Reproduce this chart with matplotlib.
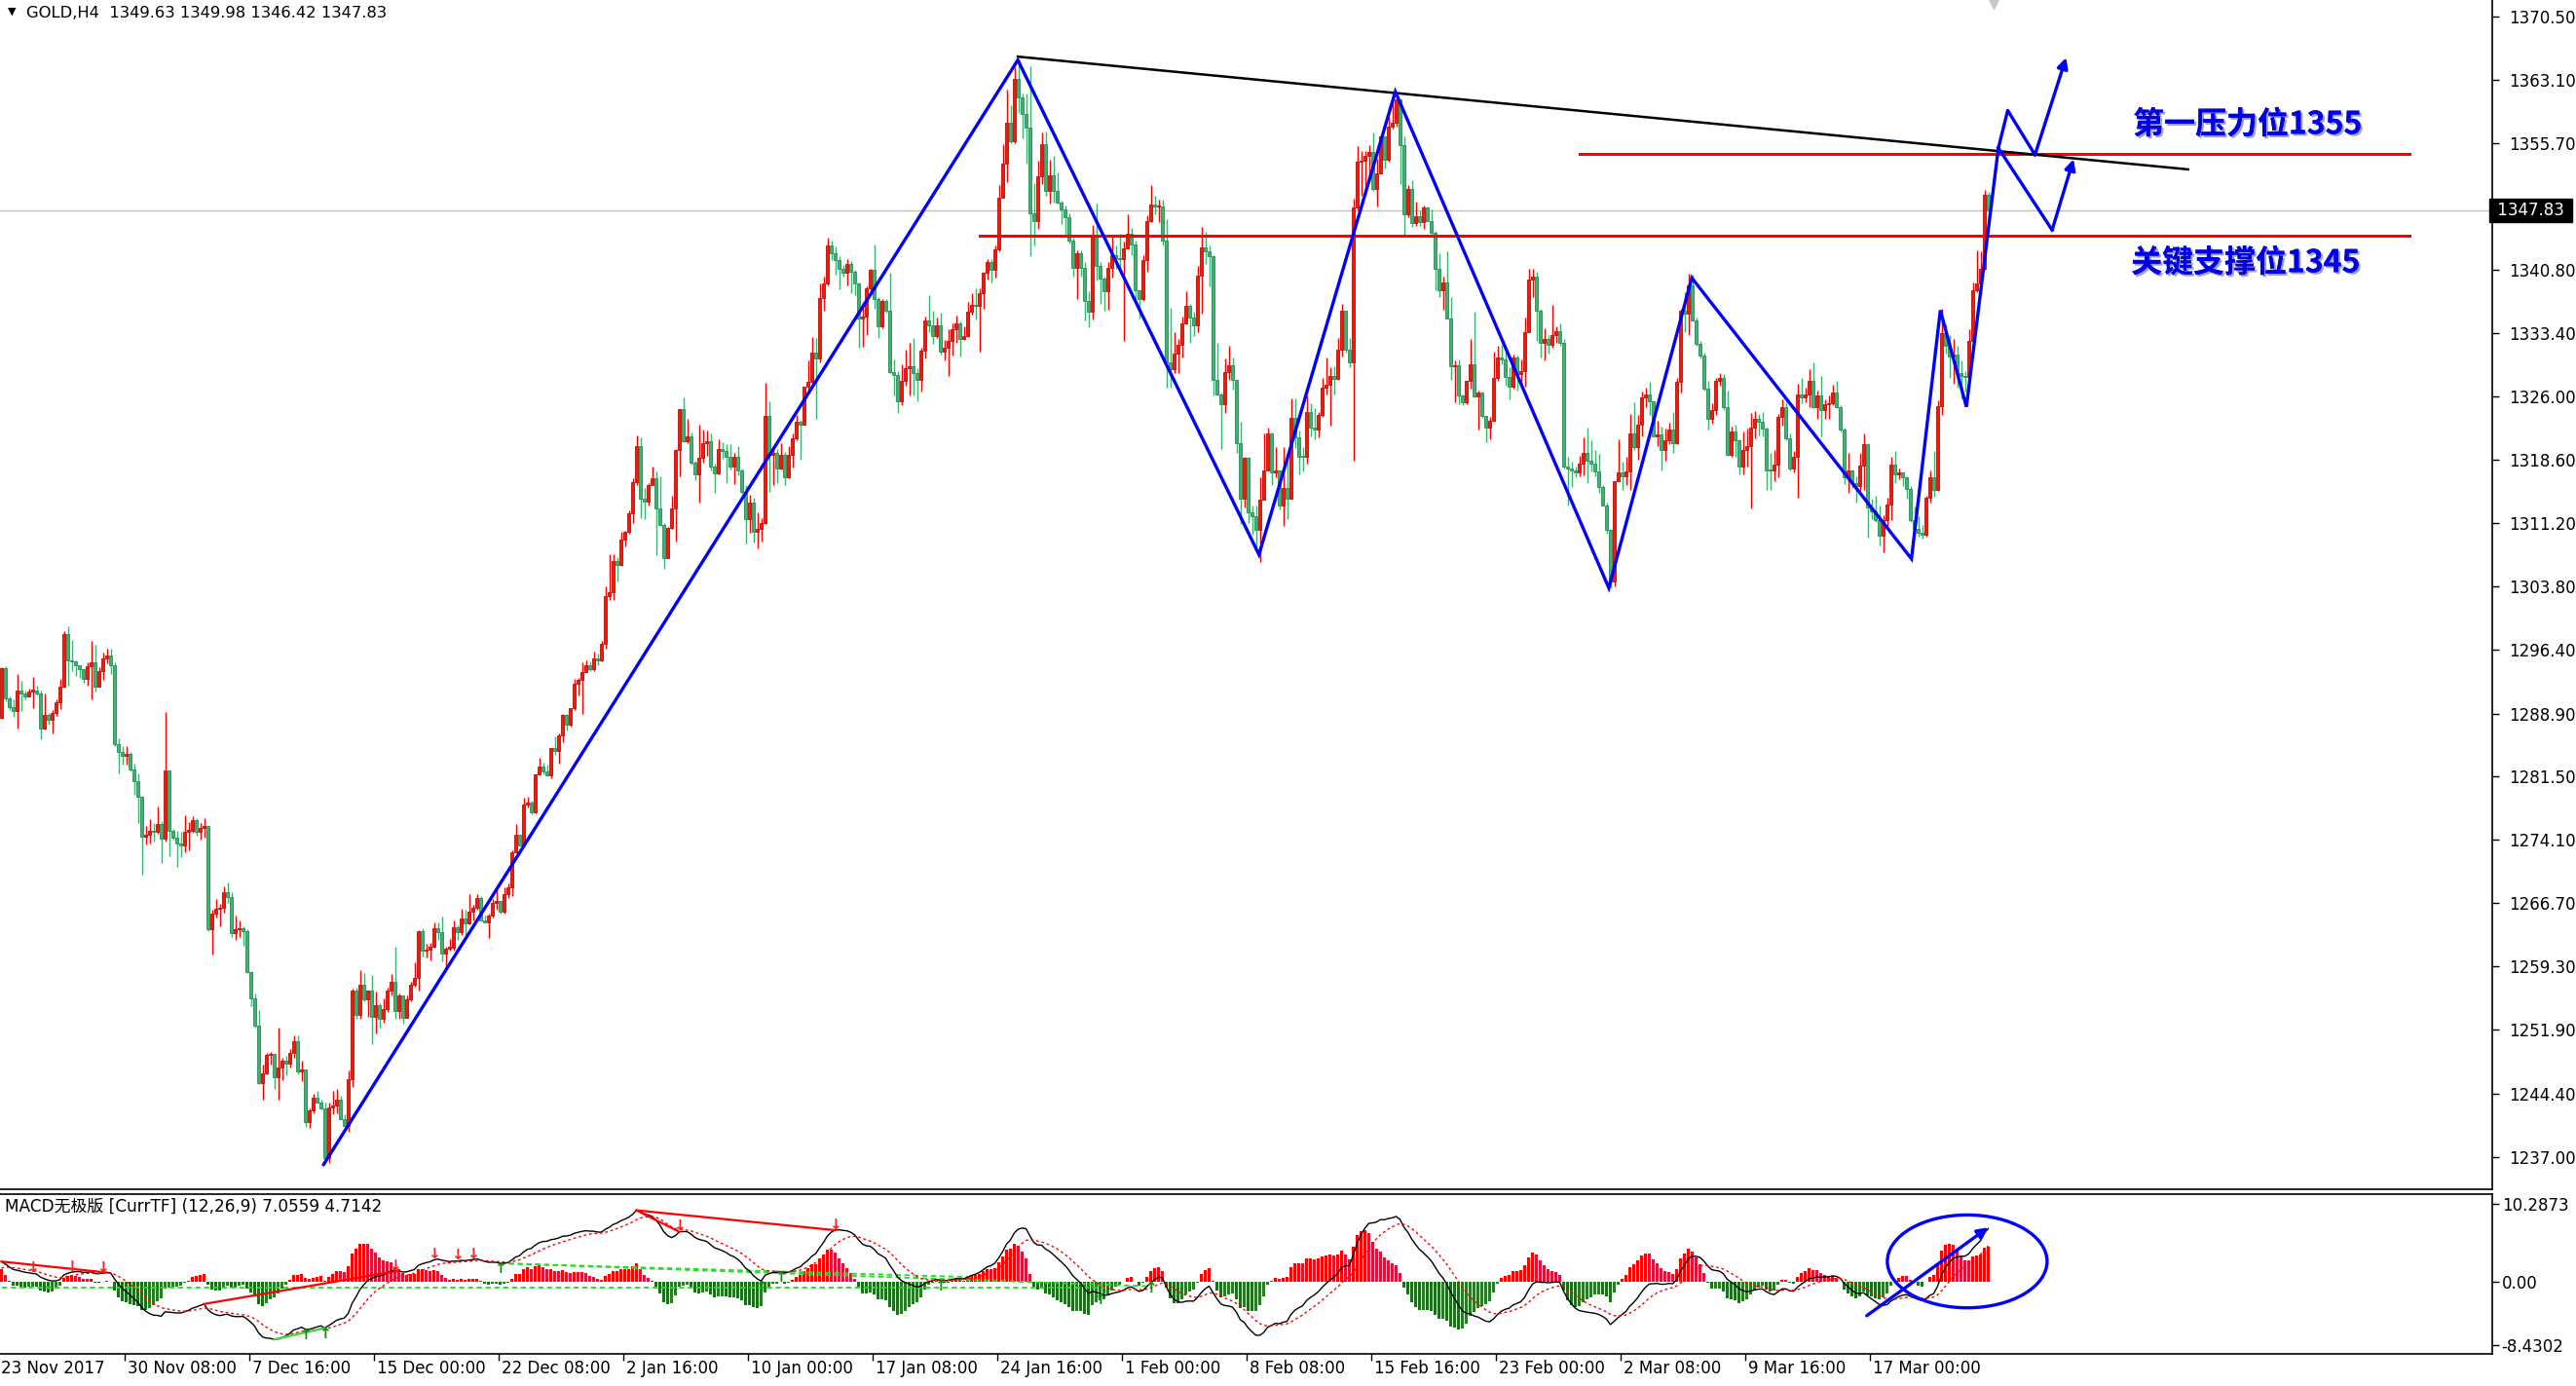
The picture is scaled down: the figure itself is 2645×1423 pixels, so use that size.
import matplotlib
matplotlib.use("Agg")
import matplotlib.pyplot as plt
from matplotlib.patches import Ellipse
import matplotlib.patheffects as pe
import matplotlib.transforms as mtransforms
import numpy as np

plt.rcParams['font.family'] = ['DejaVu Sans', 'Noto Sans CJK SC']

# ---------------- data ----------------
symbol_header = "GOLD,H4  1349.63 1349.98 1346.42 1347.83"
macd_header = "MACD无极版 [CurrTF] (12,26,9) 7.0559 4.7142"
first_open = 1288.4
last_price = 1347.83

closes = [
 1294.2, 1290.7, 1289.6, 1289.2, 1291.6, 1291.2, 1290.9, 1291.5, 1291.6, 1291.2,
 1287.1, 1288.7, 1288.2, 1289.0, 1290.2, 1292.0, 1298.2, 1295.1, 1295.0, 1294.5,
 1294.1, 1292.9, 1294.4, 1294.9, 1292.0, 1293.9, 1295.4, 1295.7, 1294.5, 1285.3,
 1284.4, 1283.9, 1284.2, 1282.3, 1281.0, 1279.1, 1274.5, 1274.7, 1275.2, 1275.0,
 1276.0, 1274.2, 1282.2, 1275.2, 1274.4, 1273.7, 1273.5, 1275.1, 1275.2, 1276.4,
 1275.1, 1275.5, 1275.7, 1263.7, 1265.5, 1266.0, 1266.2, 1268.0, 1267.4, 1263.2,
 1263.6, 1263.8, 1263.4, 1258.6, 1255.5, 1252.4, 1245.6, 1246.8, 1248.9, 1249.0,
 1246.3, 1247.5, 1248.2, 1247.9, 1249.2, 1250.5, 1247.0, 1247.2, 1241.1, 1242.4,
 1243.9, 1243.4, 1242.7, 1236.8, 1242.8, 1243.0, 1243.7, 1241.4, 1240.6, 1246.1,
 1256.5, 1253.6, 1257.2, 1255.4, 1256.5, 1253.4, 1254.8, 1253.2, 1254.3, 1256.5,
 1257.5, 1254.1, 1255.9, 1253.3, 1255.4, 1257.2, 1258.0, 1263.4, 1261.1, 1261.2,
 1261.6, 1263.8, 1263.3, 1260.8, 1261.4, 1261.5, 1263.9, 1263.3, 1264.9, 1264.3,
 1265.7, 1266.2, 1267.3, 1264.7, 1264.5, 1265.2, 1266.7, 1266.9, 1265.7, 1267.8,
 1268.5, 1272.6, 1274.7, 1273.5, 1278.2, 1278.5, 1277.3, 1281.8, 1282.7, 1282.1,
 1281.7, 1284.8, 1284.5, 1286.3, 1288.7, 1287.6, 1289.5, 1292.4, 1292.8, 1293.8,
 1294.6, 1294.1, 1295.4, 1295.1, 1297.0, 1302.7, 1303.1, 1306.7, 1306.3, 1309.3,
 1310.2, 1312.3, 1316.0, 1320.2, 1314.0, 1313.7, 1315.6, 1316.4, 1312.9, 1311.0,
 1307.1, 1310.6, 1312.9, 1319.7, 1324.5, 1320.8, 1321.3, 1318.3, 1316.9, 1318.8,
 1320.5, 1320.8, 1317.8, 1317.0, 1319.9, 1319.6, 1319.0, 1317.8, 1318.9, 1317.3,
 1314.8, 1311.7, 1313.6, 1310.2, 1310.5, 1311.2, 1323.7, 1319.2, 1319.4, 1317.6,
 1319.2, 1316.6, 1319.2, 1321.1, 1323.1, 1322.7, 1327.2, 1327.7, 1331.2, 1330.5,
 1337.5, 1339.3, 1343.7, 1342.8, 1342.0, 1341.0, 1340.5, 1341.5, 1340.6, 1339.3,
 1335.1, 1335.4, 1338.7, 1340.8, 1337.4, 1334.2, 1337.2, 1336.0, 1328.9, 1328.5,
 1325.5, 1327.8, 1329.3, 1329.6, 1328.7, 1328.0, 1331.4, 1334.9, 1334.3, 1333.1,
 1334.4, 1331.3, 1331.7, 1332.5, 1333.9, 1334.6, 1332.8, 1333.1, 1335.9, 1336.7,
 1336.6, 1338.1, 1340.5, 1341.8, 1340.9, 1343.2, 1349.3, 1353.3, 1358.1, 1355.9,
 1363.2, 1361.0, 1359.1, 1357.5, 1347.5, 1346.6, 1351.8, 1355.6, 1350.1, 1351.9,
 1350.1, 1348.7, 1347.9, 1347.0, 1344.3, 1341.1, 1342.8, 1341.1, 1337.2, 1335.9,
 1344.9, 1341.3, 1339.8, 1338.3, 1341.1, 1342.5, 1342.2, 1342.1, 1343.3, 1345.1,
 1343.8, 1338.5, 1337.4, 1342.0, 1346.5, 1348.5, 1348.2, 1348.3, 1344.3, 1330.0,
 1329.2, 1331.0, 1332.1, 1334.6, 1336.6, 1335.3, 1334.3, 1340.2, 1343.5, 1343.0,
 1342.4, 1328.0, 1326.2, 1325.1, 1328.9, 1329.7, 1328.0, 1320.5, 1314.1, 1318.8,
 1312.4, 1312.0, 1310.4, 1313.9, 1317.4, 1321.7, 1317.1, 1317.3, 1313.2, 1315.3,
 1314.1, 1323.5, 1321.2, 1319.0, 1318.9, 1324.2, 1322.4, 1322.2, 1323.8, 1327.0,
 1327.4, 1328.4, 1328.1, 1331.5, 1336.0, 1331.5, 1330.0, 1348.1, 1353.5, 1353.6,
 1354.2, 1354.6, 1350.3, 1352.1, 1356.5, 1353.7, 1357.6, 1358.1, 1360.8, 1355.4,
 1347.4, 1350.3, 1346.3, 1347.1, 1346.4, 1348.1, 1346.6, 1345.2, 1341.0, 1338.4,
 1339.4, 1335.1, 1329.5, 1329.7, 1326.1, 1325.3, 1327.8, 1329.8, 1326.0, 1326.5,
 1323.7, 1322.4, 1323.2, 1328.2, 1330.6, 1330.3, 1328.3, 1327.2, 1330.6, 1328.6,
 1329.0, 1333.6, 1339.7, 1340.0, 1336.1, 1332.3, 1332.7, 1332.1, 1333.2, 1333.7,
 1332.3, 1317.8, 1317.6, 1317.3, 1317.1, 1318.1, 1319.4, 1318.5, 1318.1, 1317.2,
 1315.4, 1313.2, 1310.4, 1304.3, 1316.1, 1317.1, 1316.7, 1317.2, 1321.7, 1320.1,
 1322.7, 1325.9, 1326.2, 1325.5, 1321.3, 1321.6, 1319.8, 1320.9, 1322.1, 1320.5,
 1327.7, 1336.0, 1335.7, 1339.0, 1334.9, 1332.2, 1330.8, 1326.9, 1323.4, 1324.4,
 1327.9, 1328.2, 1324.8, 1319.2, 1321.9, 1320.9, 1317.8, 1319.8, 1320.2, 1322.4,
 1323.4, 1323.0, 1322.3, 1317.4, 1317.3, 1318.0, 1323.6, 1324.8, 1321.1, 1317.6,
 1318.9, 1326.3, 1325.9, 1326.2, 1327.8, 1324.8, 1326.1, 1324.4, 1325.1, 1325.2,
 1326.5, 1324.8, 1322.1, 1316.5, 1317.3, 1315.9, 1315.5, 1317.9, 1320.4, 1313.0,
 1312.6, 1311.5, 1309.7, 1311.5, 1313.4, 1318.0, 1316.9, 1317.1, 1316.5, 1315.2,
 1311.5, 1310.5, 1310.0, 1309.8, 1314.2, 1316.5, 1315.1, 1324.9, 1333.4, 1331.9,
 1330.7, 1330.9, 1328.8, 1328.4, 1328.3, 1332.5, 1338.4, 1339.3, 1341.0, 1349.63,
 1347.83,
]

highs = [
 1294.3, 1294.4, 1290.9, 1290.6, 1293.5, 1292.7, 1291.6, 1291.8, 1293.2, 1292.2,
 1291.6, 1291.2, 1289.0, 1289.3, 1290.6, 1292.9, 1298.5, 1299.1, 1297.5, 1295.1,
 1294.6, 1294.2, 1294.9, 1297.4, 1296.9, 1294.3, 1296.0, 1296.5, 1296.5, 1294.9,
 1286.0, 1285.1, 1285.1, 1284.4, 1283.0, 1281.9, 1279.3, 1275.7, 1276.5, 1276.1,
 1278.0, 1276.3, 1289.1, 1280.2, 1275.4, 1275.2, 1275.0, 1277.0, 1276.2, 1276.9,
 1276.7, 1276.1, 1276.7, 1275.7, 1265.9, 1267.2, 1266.6, 1268.7, 1269.1, 1268.0,
 1265.2, 1264.7, 1264.0, 1263.6, 1258.7, 1256.1, 1254.2, 1247.8, 1249.2, 1249.3,
 1249.1, 1252.1, 1248.6, 1248.8, 1249.6, 1251.2, 1251.2, 1248.3, 1247.2, 1242.7,
 1244.4, 1244.7, 1243.7, 1243.3, 1243.3, 1244.7, 1244.9, 1244.2, 1242.0, 1247.1,
 1256.7, 1256.8, 1258.9, 1258.5, 1256.5, 1258.3, 1256.4, 1255.0, 1255.5, 1256.8,
 1258.4, 1261.6, 1256.1, 1255.4, 1255.9, 1257.5, 1259.8, 1263.5, 1263.8, 1261.9,
 1262.1, 1264.4, 1264.4, 1265.1, 1261.6, 1262.5, 1264.7, 1264.1, 1266.0, 1265.9,
 1267.7, 1266.5, 1267.8, 1267.5, 1265.2, 1265.5, 1267.2, 1268.6, 1267.0, 1268.5,
 1269.0, 1272.9, 1276.0, 1274.4, 1279.0, 1279.1, 1278.7, 1281.8, 1283.7, 1283.1,
 1282.9, 1284.9, 1286.2, 1286.6, 1288.9, 1288.9, 1289.5, 1293.0, 1293.1, 1294.9,
 1295.1, 1295.0, 1296.2, 1295.9, 1297.4, 1303.8, 1307.5, 1307.5, 1307.2, 1310.2,
 1310.3, 1312.7, 1316.4, 1321.5, 1321.2, 1315.3, 1315.9, 1317.8, 1317.2, 1316.7,
 1311.2, 1310.7, 1314.4, 1319.9, 1324.5, 1325.9, 1323.4, 1321.8, 1318.5, 1322.7,
 1322.1, 1322.0, 1321.7, 1318.1, 1321.0, 1320.7, 1320.4, 1320.4, 1319.4, 1320.2,
 1317.6, 1315.6, 1314.5, 1314.2, 1312.5, 1311.8, 1327.6, 1325.4, 1319.9, 1319.9,
 1320.6, 1319.5, 1320.2, 1321.7, 1323.9, 1323.3, 1327.2, 1330.2, 1333.0, 1332.9,
 1339.3, 1340.0, 1344.6, 1344.3, 1343.6, 1342.4, 1341.4, 1342.1, 1341.9, 1340.8,
 1339.4, 1337.1, 1338.9, 1341.0, 1343.8, 1337.6, 1337.4, 1337.4, 1340.5, 1330.4,
 1329.0, 1329.8, 1331.5, 1332.3, 1332.9, 1329.3, 1331.7, 1335.4, 1337.9, 1336.0,
 1335.2, 1335.8, 1332.6, 1333.9, 1334.6, 1335.5, 1334.8, 1334.2, 1337.1, 1338.1,
 1338.7, 1338.7, 1340.6, 1342.1, 1342.1, 1343.7, 1350.8, 1355.6, 1361.9, 1360.1,
 1364.6, 1365.4, 1361.5, 1361.5, 1364.7, 1351.0, 1353.6, 1356.9, 1357.0, 1353.7,
 1354.2, 1352.2, 1348.9, 1348.4, 1347.5, 1344.6, 1343.1, 1343.1, 1341.7, 1338.3,
 1346.1, 1348.6, 1341.7, 1340.0, 1341.7, 1345.0, 1343.7, 1345.1, 1344.2, 1347.4,
 1345.8, 1344.3, 1338.6, 1342.5, 1347.2, 1350.8, 1349.5, 1349.0, 1349.0, 1346.8,
 1336.4, 1333.6, 1332.7, 1335.4, 1338.3, 1336.9, 1335.9, 1341.3, 1345.9, 1345.3,
 1343.7, 1342.5, 1332.3, 1326.5, 1330.5, 1332.0, 1330.6, 1328.0, 1323.0, 1318.9,
 1318.9, 1313.3, 1313.2, 1316.5, 1321.7, 1322.4, 1321.8, 1320.1, 1317.2, 1320.1,
 1318.9, 1325.8, 1325.8, 1322.0, 1320.1, 1326.1, 1325.2, 1324.7, 1324.2, 1328.2,
 1330.6, 1329.4, 1329.5, 1332.9, 1336.8, 1336.1, 1332.9, 1349.2, 1355.3, 1354.8,
 1354.8, 1355.4, 1356.9, 1353.9, 1356.6, 1355.8, 1358.8, 1360.5, 1361.3, 1359.3,
 1356.5, 1350.8, 1351.3, 1348.8, 1347.8, 1348.4, 1348.3, 1347.9, 1345.4, 1342.8,
 1340.0, 1343.0, 1337.7, 1330.2, 1330.4, 1326.2, 1327.8, 1332.7, 1335.9, 1326.7,
 1326.6, 1323.7, 1323.6, 1331.3, 1332.0, 1332.1, 1331.5, 1329.4, 1330.9, 1330.8,
 1330.4, 1335.2, 1341.0, 1341.0, 1340.6, 1336.3, 1334.0, 1333.2, 1336.7, 1334.2,
 1334.6, 1332.8, 1319.0, 1318.4, 1317.8, 1319.1, 1321.2, 1322.4, 1320.9, 1319.8,
 1319.3, 1315.6, 1313.6, 1310.5, 1316.1, 1321.0, 1318.4, 1319.0, 1324.0, 1325.3,
 1323.9, 1326.6, 1327.1, 1327.7, 1325.5, 1323.2, 1322.5, 1322.3, 1322.9, 1324.2,
 1328.2, 1336.3, 1338.2, 1340.4, 1340.3, 1335.2, 1332.5, 1331.1, 1327.8, 1325.2,
 1328.2, 1328.8, 1328.6, 1326.7, 1322.5, 1322.7, 1321.0, 1321.9, 1322.3, 1324.1,
 1324.3, 1324.0, 1324.2, 1322.4, 1319.4, 1319.8, 1324.0, 1325.7, 1325.3, 1321.7,
 1319.6, 1327.5, 1328.2, 1327.1, 1329.2, 1330.0, 1326.7, 1328.4, 1325.7, 1326.1,
 1327.4, 1327.8, 1325.0, 1322.4, 1319.4, 1317.5, 1316.7, 1319.4, 1321.7, 1320.6,
 1314.0, 1314.4, 1313.2, 1312.1, 1314.2, 1319.0, 1319.6, 1317.6, 1317.1, 1316.7,
 1315.5, 1313.1, 1312.0, 1311.0, 1314.4, 1317.4, 1319.6, 1325.6, 1336.3, 1334.5,
 1333.2, 1332.7, 1331.9, 1330.2, 1329.0, 1333.9, 1339.4, 1343.1, 1343.0, 1350.2,
 1349.98,
]

lows = [
 1288.3, 1290.3, 1289.3, 1288.5, 1287.1, 1289.2, 1290.6, 1290.9, 1289.5, 1291.0,
 1285.9, 1287.0, 1287.6, 1286.6, 1288.6, 1289.4, 1291.9, 1292.2, 1293.9, 1293.3,
 1293.1, 1292.5, 1292.2, 1290.6, 1291.5, 1292.0, 1292.8, 1294.8, 1293.5, 1285.1,
 1281.9, 1282.9, 1282.9, 1282.1, 1279.4, 1276.1, 1270.0, 1273.6, 1273.7, 1273.9,
 1274.8, 1271.4, 1273.9, 1272.2, 1274.1, 1271.0, 1272.1, 1272.7, 1272.9, 1274.9,
 1274.6, 1274.1, 1274.4, 1263.4, 1260.7, 1265.0, 1264.0, 1265.6, 1266.7, 1262.7,
 1262.4, 1262.7, 1261.7, 1258.5, 1254.6, 1252.1, 1245.5, 1243.7, 1246.7, 1247.8,
 1245.0, 1243.7, 1246.0, 1246.5, 1247.4, 1248.6, 1246.7, 1245.9, 1240.5, 1240.4,
 1242.1, 1243.3, 1242.6, 1236.6, 1236.3, 1242.0, 1242.1, 1241.4, 1240.3, 1239.9,
 1245.2, 1253.1, 1253.1, 1255.2, 1253.4, 1250.2, 1251.4, 1252.1, 1252.7, 1253.9,
 1255.9, 1253.2, 1253.1, 1252.6, 1253.3, 1255.2, 1256.9, 1256.5, 1260.4, 1260.3,
 1260.0, 1261.5, 1262.4, 1259.9, 1259.0, 1261.1, 1261.1, 1262.4, 1263.0, 1263.0,
 1264.2, 1264.7, 1265.9, 1264.6, 1264.4, 1262.6, 1265.0, 1265.9, 1265.5, 1265.5,
 1267.3, 1267.5, 1272.5, 1273.4, 1273.3, 1277.9, 1277.1, 1277.2, 1281.7, 1281.8,
 1281.6, 1281.3, 1284.1, 1283.0, 1285.5, 1286.9, 1287.4, 1289.3, 1291.0, 1288.8,
 1293.7, 1293.9, 1293.9, 1294.6, 1295.0, 1296.5, 1302.2, 1302.2, 1304.3, 1306.2,
 1308.5, 1309.9, 1311.2, 1315.6, 1311.8, 1311.7, 1313.3, 1315.6, 1307.4, 1310.9,
 1305.8, 1307.1, 1310.5, 1309.0, 1316.7, 1320.7, 1320.5, 1318.0, 1316.2, 1313.6,
 1318.3, 1319.1, 1317.3, 1314.7, 1316.9, 1318.7, 1315.9, 1317.5, 1315.8, 1316.8,
 1314.6, 1308.8, 1310.1, 1308.9, 1308.2, 1309.0, 1311.1, 1314.8, 1315.6, 1315.9,
 1317.5, 1315.6, 1316.4, 1317.7, 1320.9, 1318.6, 1322.7, 1326.8, 1327.3, 1323.4,
 1330.0, 1336.0, 1339.0, 1342.0, 1340.3, 1338.6, 1340.1, 1339.0, 1338.1, 1337.9,
 1331.7, 1331.8, 1333.2, 1338.2, 1336.3, 1332.9, 1334.0, 1335.8, 1328.8, 1326.1,
 1324.1, 1325.0, 1327.3, 1326.1, 1326.1, 1325.4, 1326.6, 1330.5, 1333.6, 1332.2,
 1332.9, 1330.9, 1330.2, 1328.4, 1330.8, 1332.3, 1330.7, 1332.6, 1333.0, 1335.6,
 1335.0, 1331.3, 1336.3, 1339.7, 1339.4, 1339.9, 1343.0, 1349.3, 1351.1, 1355.7,
 1355.7, 1359.2, 1356.2, 1353.3, 1342.4, 1343.7, 1345.6, 1350.9, 1349.5, 1348.6,
 1348.7, 1348.6, 1346.2, 1345.0, 1343.9, 1340.0, 1337.4, 1340.0, 1334.9, 1334.1,
 1335.0, 1339.6, 1336.8, 1336.0, 1336.2, 1339.9, 1341.0, 1340.6, 1332.5, 1343.2,
 1342.5, 1336.8, 1335.1, 1337.2, 1340.6, 1346.4, 1347.4, 1346.4, 1343.7, 1327.1,
 1327.1, 1328.8, 1328.7, 1330.6, 1334.5, 1332.3, 1333.1, 1333.5, 1335.7, 1341.5,
 1338.9, 1326.1, 1326.1, 1319.9, 1324.1, 1328.0, 1326.8, 1319.4, 1311.1, 1313.0,
 1311.2, 1309.8, 1308.5, 1306.6, 1313.9, 1317.3, 1315.7, 1316.5, 1312.8, 1310.8,
 1311.6, 1315.3, 1320.0, 1316.9, 1317.2, 1318.2, 1321.4, 1321.0, 1321.2, 1323.6,
 1326.2, 1322.6, 1326.2, 1328.0, 1330.7, 1331.1, 1329.4, 1318.5, 1347.8, 1349.5,
 1350.5, 1351.9, 1350.1, 1348.3, 1352.1, 1352.7, 1353.5, 1357.4, 1357.6, 1350.9,
 1344.8, 1347.0, 1345.9, 1346.0, 1346.0, 1345.6, 1346.5, 1345.0, 1338.4, 1337.7,
 1336.2, 1335.1, 1328.0, 1325.3, 1325.1, 1325.0, 1325.1, 1326.9, 1325.9, 1322.1,
 1323.5, 1320.7, 1321.0, 1323.1, 1327.9, 1329.8, 1327.3, 1325.7, 1326.9, 1326.7,
 1327.3, 1327.2, 1333.5, 1337.7, 1332.5, 1330.6, 1330.2, 1331.0, 1331.7, 1332.3,
 1331.9, 1317.6, 1313.3, 1315.4, 1316.5, 1316.7, 1316.8, 1315.9, 1317.2, 1316.7,
 1314.7, 1313.2, 1309.9, 1303.6, 1303.8, 1316.1, 1315.1, 1315.7, 1315.1, 1319.7,
 1318.6, 1321.4, 1324.8, 1323.9, 1321.3, 1320.2, 1317.4, 1318.5, 1320.4, 1319.4,
 1320.4, 1326.5, 1333.6, 1333.2, 1334.8, 1332.0, 1330.5, 1326.7, 1322.1, 1322.8,
 1323.8, 1327.3, 1324.4, 1319.1, 1319.0, 1319.0, 1316.9, 1316.9, 1317.8, 1312.9,
 1321.1, 1321.5, 1321.3, 1315.1, 1315.1, 1316.1, 1316.5, 1322.6, 1320.9, 1317.4,
 1317.1, 1314.2, 1325.2, 1325.3, 1324.8, 1324.6, 1323.4, 1321.4, 1323.4, 1323.4,
 1325.0, 1324.6, 1321.9, 1315.8, 1314.7, 1315.3, 1313.6, 1315.0, 1315.1, 1309.5,
 1311.7, 1311.3, 1308.6, 1307.8, 1310.5, 1311.5, 1315.9, 1316.3, 1315.5, 1314.0,
 1311.3, 1309.8, 1309.6, 1309.4, 1309.6, 1313.6, 1314.3, 1315.0, 1323.9, 1331.0,
 1328.2, 1327.5, 1327.0, 1325.8, 1326.6, 1327.6, 1331.5, 1338.2, 1338.0, 1340.8,
 1346.42,
]

price_ticks = [1370.50, 1363.10, 1355.70, 1340.80, 1333.40, 1326.00, 1318.60,
               1311.20, 1303.80, 1296.40, 1288.90, 1281.50, 1274.10, 1266.70,
               1259.30, 1251.90, 1244.40, 1237.00]
macd_ticks = [10.2873, 0.0, -8.4302]
macd_tick_labels = ["10.2873", "0.00", "-8.4302"]
date_labels = ["23 Nov 2017", "30 Nov 08:00", "7 Dec 16:00", "15 Dec 00:00",
               "22 Dec 08:00", "2 Jan 16:00", "10 Jan 00:00", "17 Jan 08:00",
               "24 Jan 16:00", "1 Feb 00:00", "8 Feb 08:00", "15 Feb 16:00",
               "23 Feb 00:00", "2 Mar 08:00", "9 Mar 16:00", "17 Mar 00:00"]
bars_per_label = 32

# MACD settings and state before the first visible bar
macd_fast, macd_slow, macd_signal = 12, 26, 9
init_ema_fast, init_ema_slow, init_dea = 1292.0, 1289.3, 1.6

# hand-drawn annotations (bar index, price)
resistance_level, resistance_span = 1354.4, (405, 618)
support_level, support_span = 1344.8, (251, 618)
trend_pts_x, trend_pts_y = [260.9, 561.3], [1365.8, 1352.6]
zigzag_x = [82.7, 260.9, 322.8, 357.8, 412.6, 433.9, 490.3, 497.7, 504.4, 512.6]
zigzag_y = [1236.1, 1365.4, 1307.5, 1361.7, 1303.6, 1339.9, 1307.0, 1336.1, 1324.8, 1355.1]
proj_a_x, proj_a_y = [512.6, 515.0, 522.0, 530.0], [1355.1, 1359.5, 1354.3, 1365.7]
proj_b_x, proj_b_y = [512.6, 526.4, 531.9], [1355.1, 1345.5, 1353.8]
label_top, label_top_pos = "第一压力位1355", (576.6, 1357.8)
label_bot, label_bot_pos = "关键支撑位1345", (576.1, 1341.6)

macd_red_segments = [(0, 27), (52, 102), (163, 214), (163, 174)]
macd_red_arrows = [8, 18, 26, 101, 111, 117, 121, 174, 214]
macd_green_arrows = [78, 83, 128, 195, 200, 241, 282, 295]
macd_green_segment = (70, 83)
macd_green_dash = [((0, -0.8), (283, -0.8)), ((128, None), (250, 0.6)), ((128, None), (295, -0.6))]
macd_ellipse = (504.6, 2.7, 41, 12.3)
macd_arrow = ((478.8, -4.5), (510.0, 7.2))

# ---------------- figure ----------------
W, H = 2645, 1423
fig = plt.figure(figsize=(W / 100, H / 100), dpi=100)
fig.patch.set_facecolor('white')

n = min(len(closes), len(highs), len(lows))
c = np.array(closes[:n], dtype=float)
o = np.r_[first_open, c[:-1]]
h = np.maximum(np.array(highs[:n], dtype=float), np.maximum(o, c))
l = np.minimum(np.array(lows[:n], dtype=float), np.minimum(o, c))
x = np.arange(n)

XL = (-0.375, -0.375 + 2559 / 4)
ax = fig.add_axes([0, 1 - 1221 / H, 2559 / W, 1221 / H])
axm = fig.add_axes([0, 1 - 1390 / H, 2559 / W, (1390 - 1226) / H])

# ---- candles
up = c >= o
ax.vlines(x[up], l[up], h[up], color='#FF0000', lw=1.0, zorder=3)
ax.vlines(x[~up], l[~up], h[~up], color='#3CB371', lw=1.0, zorder=3)
bb = np.minimum(o, c)
bh = np.maximum(np.abs(c - o), 0.15)
ax.bar(x[up], bh[up], bottom=bb[up], width=0.78, color='#FF1500',
       edgecolor='#B01010', lw=0.6, zorder=4)
ax.bar(x[~up], bh[~up], bottom=bb[~up], width=0.78, color='#3CB371',
       edgecolor='#2A8A55', lw=0.6, zorder=4)

ax.axhline(last_price, color='#C0C0C0', lw=1.0, zorder=1)

ax.plot(resistance_span, [resistance_level] * 2, color='#FF0000', lw=2.2, zorder=5)
ax.plot(support_span, [support_level] * 2, color='#FF0000', lw=2.2, zorder=5)
ax.plot(trend_pts_x, trend_pts_y, color='black', lw=1.8, zorder=5)
ax.plot(zigzag_x, zigzag_y, color='#0000FF', lw=2.4, zorder=6, solid_joinstyle='miter')
for px_, py_ in [(proj_a_x, proj_a_y), (proj_b_x, proj_b_y)]:
    ax.plot(px_[:-1], py_[:-1], color='#0000FF', lw=2.4, zorder=6)
    ax.annotate('', xy=(px_[-1], py_[-1]), xytext=(px_[-2], py_[-2]),
                arrowprops=dict(arrowstyle='-|>', color='#0000FF', lw=2.4,
                                mutation_scale=16, shrinkA=0, shrinkB=0), zorder=6)

shadow = [pe.withSimplePatchShadow(offset=(1.5, -1.5), shadow_rgbFace='#8888cc', alpha=0.8), pe.Normal()]
for txt, pos in [(label_top, label_top_pos), (label_bot, label_bot_pos)]:
    ax.text(pos[0], pos[1], txt, ha='center', va='center', color='#0000E6',
            fontsize=23, fontweight='bold', family=['Noto Sans CJK SC', 'DejaVu Sans'],
            path_effects=shadow, zorder=7)

ax.set_xlim(*XL)
ax.set_ylim(1233.20, 1372.43)
ax.yaxis.tick_right()
ax.set_yticks(price_ticks)
ax.set_yticklabels([f"{v:.2f}" for v in price_ticks])
ax.tick_params(axis='y', direction='out', length=5, width=1, pad=7, labelsize=12, colors='black')
ax.set_xticks([])
for s in ['left', 'top']:
    ax.spines[s].set_visible(False)
ax.spines['right'].set_linewidth(1.2)
ax.spines['bottom'].set_linewidth(1.2)

trans = mtransforms.blended_transform_factory(ax.transAxes, ax.transData)
ax.text(1.0, last_price, f" {last_price:.2f} ", transform=trans, ha='left', va='center',
        color='white', fontsize=12, clip_on=False,
        bbox=dict(boxstyle='square,pad=0.18', facecolor='black', edgecolor='black'))
ax.plot([n + 0.4], [1372.1], marker='v', color='#C8C8C8', ms=9, clip_on=False, zorder=8)

# ---- MACD
af, asl, ag = 2 / (macd_fast + 1), 2 / (macd_slow + 1), 2 / (macd_signal + 1)
ef, es, dv = init_ema_fast, init_ema_slow, init_dea
dif = np.zeros(n); dea = np.zeros(n)
for i in range(n):
    ef += af * (c[i] - ef)
    es += asl * (c[i] - es)
    d = ef - es
    dv += ag * (d - dv)
    dif[i] = d; dea[i] = dv
hist = 2 * (dif - dea)
cols = []
for i in range(n):
    prev = hist[i - 1] if i > 0 else hist[i]
    if hist[i] >= 0:
        cols.append('#FF0000' if hist[i] >= prev else '#DC143C')
    else:
        cols.append('#1E6E1E' if hist[i] <= prev else '#2A7A2A')
axm.bar(x, hist, width=0.7, color=cols, zorder=2)
axm.plot(x, dif, color='black', lw=1.0, zorder=4)
axm.plot(x, dea, color='#FF0000', lw=1.0, ls=(0, (2, 2)), zorder=4)

for a, b in macd_red_segments:
    axm.plot([a, b], [dif[a], dif[b]], color='#FF0000', lw=1.6, zorder=5)
ga, gb = macd_green_segment
axm.plot([ga, gb], [dif[ga], dif[gb]], color='#33DD33', lw=1.6, zorder=5)
for (xa, ya), (xb, yb) in macd_green_dash:
    ya = dif[xa] if ya is None else ya
    axm.plot([xa, xb], [ya, yb], color='#22DD22', lw=1.3, ls=(0, (3, 2)), zorder=3)
for i in macd_red_arrows:
    axm.text(i, dif[i] - 0.2, '↓', color='#FF2020', fontsize=11, fontweight='bold',
             ha='center', va='bottom', zorder=6)
for i in macd_green_arrows:
    axm.text(i, dif[i] + 0.2, '↑', color='#138A13', fontsize=11, fontweight='bold',
             ha='center', va='top', zorder=6)

ex, ey, ew, eh = macd_ellipse
axm.add_patch(Ellipse((ex, ey), ew, eh, fill=False, edgecolor='#0000FF', lw=2.4, zorder=7))
(sx, sy), (tx, ty) = macd_arrow
axm.annotate('', xy=(tx, ty), xytext=(sx, sy),
             arrowprops=dict(arrowstyle='-|>', color='#0000FF', lw=2.4, mutation_scale=16,
                             shrinkA=0, shrinkB=0), zorder=7)

axm.set_xlim(*XL)
axm.set_ylim(-9.55, 11.61)
axm.yaxis.tick_right()
axm.set_yticks(macd_ticks)
axm.set_yticklabels(macd_tick_labels)
axm.tick_params(axis='y', direction='out', length=5, width=1, pad=2, labelsize=12)
tick_pos = [bars_per_label * k - 0.375 for k in range(len(date_labels))]
axm.set_xticks(tick_pos[1:])
axm.set_xticklabels([''] * (len(tick_pos) - 1))
axm.tick_params(axis='x', direction='out', length=5, width=1)
axm.spines['left'].set_visible(False)
for s in ['top', 'bottom', 'right']:
    axm.spines[s].set_linewidth(1.2)

for k, lab in enumerate(date_labels):
    xpix = 128 * k + (3 if k > 0 else 1)
    fig.text(xpix / W, 1 - 1405 / H, lab, fontsize=12, ha='left', va='center')

# headers
fig.text(8 / W, 1 - 12 / H, '▼', fontsize=8, ha='left', va='center')
fig.text(27 / W, 1 - 13 / H, symbol_header, fontsize=11.8, ha='left', va='center')
fig.text(5 / W, 1 - 1239 / H, macd_header, fontsize=12.2, ha='left', va='center',
         family=['DejaVu Sans', 'Noto Sans CJK SC'])

fig.savefig('out.png', dpi=100, facecolor='white')
